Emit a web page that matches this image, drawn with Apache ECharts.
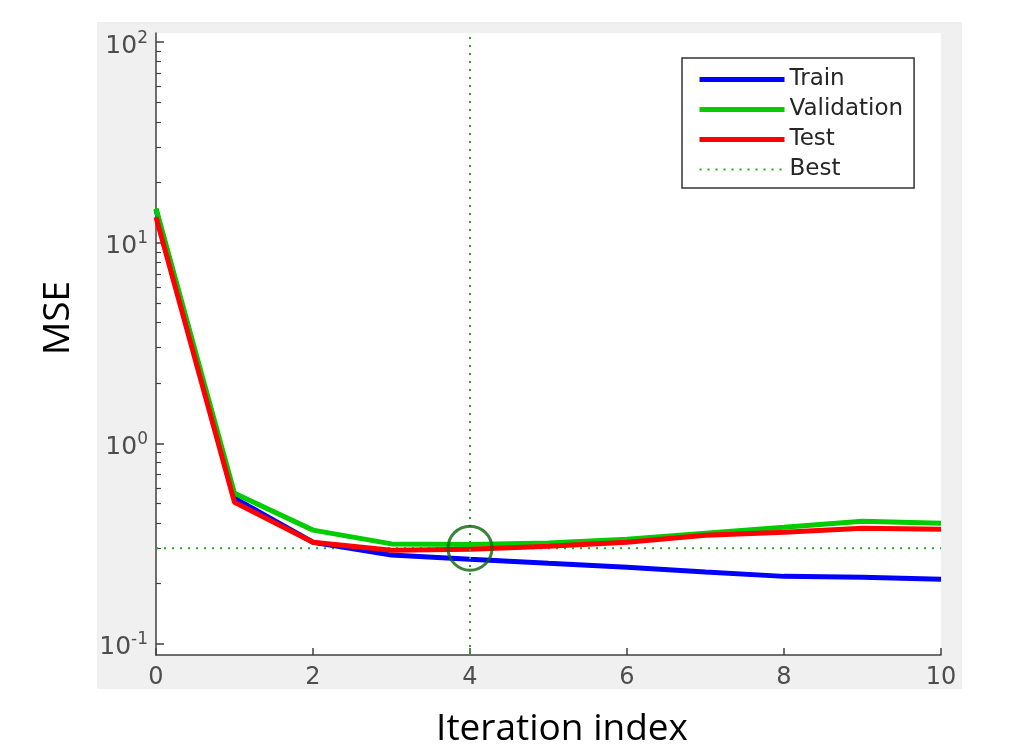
<!DOCTYPE html>
<html>
<head>
<meta charset="utf-8">
<script src="https://cdn.jsdelivr.net/npm/echarts@6/dist/echarts.min.js"></script>
<style>
html,body{margin:0;padding:0;background:#fff;}
#chart{width:1009px;height:751px;}
</style>
</head>
<body>
<div id="chart"></div>
<script>
var epochs=[0,1,2,3,4,5,6,7,8,9,10];
var trainMse=[14.6,0.532,0.321,0.277,0.264,0.252,0.241,0.228,0.217,0.215,0.210];
var validMse=[14.8,0.563,0.369,0.315,0.313,0.318,0.332,0.356,0.381,0.409,0.399];
var testMse=[13.4,0.508,0.321,0.293,0.296,0.307,0.321,0.348,0.360,0.377,0.373];
var bestEpoch=4;
var bestMse=0.30;
var xTicks=[0,2,4,6,8,10];
var yMajor=[0.1,1,10,100];
var yMinor=[0.2,0.3,0.4,0.5,0.6,0.7,0.8,0.9,2,3,4,5,6,7,8,9,20,30,40,50,60,70,80,90];

function pairs(ys){
	var out=[];
	for(var i=0;i<epochs.length;i++){
		out.push([epochs[i],ys[i]]);
	}
	return out;
}

var axisColor='#404040';
var labelColor='#4d4d4d';
var dotGreen='#22aa22';

var chart=echarts.init(document.getElementById('chart'));
var option={
	backgroundColor:'#ffffff',
	animation:false,
	graphic:[
		{type:'rect',z:-10,shape:{x:97,y:22,width:865,height:667},style:{fill:'#f0f0f0'}},
		{type:'text',x:58,y:318,rotation:Math.PI/2,
			style:{text:'MSE',fontSize:37,fontFamily:'Open Sans',fill:'#000',align:'center',verticalAlign:'middle'}},
		{type:'text',x:562,y:729,
			style:{text:'Iteration index',fontSize:37,fontFamily:'Open Sans',fill:'#000',align:'center',verticalAlign:'middle'}}
	],
	grid:{left:156,right:68,top:33,bottom:96,show:true,backgroundColor:'#ffffff',borderWidth:0},
	legend:{
		orient:'vertical',
		left:682,
		top:58,
		padding:[10,11,7,15],
		backgroundColor:'#ffffff',
		borderColor:'#333333',
		borderWidth:1.5,
		borderRadius:0,
		itemWidth:85,
		itemHeight:14,
		itemGap:7,
		itemStyle:{opacity:0},
		data:[
			{name:'Train',lineStyle:{width:5}},
			{name:'Validation',lineStyle:{width:5}},
			{name:'Test',lineStyle:{width:5}},
			{name:'Best',lineStyle:{width:2}}
		],
		textStyle:{fontSize:23,fontFamily:'DejaVu Sans',color:'#262626',lineHeight:23}
	},
	xAxis:{
		type:'value',
		min:0,
		max:10,
		interval:2,
		axisLine:{show:true,lineStyle:{color:axisColor,width:1.5}},
		axisTick:{show:true,inside:true,length:7,lineStyle:{color:axisColor,width:1.5}},
		axisLabel:{customValues:xTicks,margin:11,fontSize:24,fontFamily:'DejaVu Sans',color:labelColor},
		splitLine:{show:false}
	},
	yAxis:[
		{
			type:'log',
			min:0.088,
			max:111,
			axisLine:{show:true,lineStyle:{color:axisColor,width:1.5}},
			axisTick:{show:true,inside:true,length:8,customValues:yMajor,lineStyle:{color:axisColor,width:1.5}},
			axisLabel:{
				customValues:yMajor,
				margin:8,
				formatter:function(v){
					var e=Math.round(Math.log(v)/Math.LN10);
					return '{b|10}{s|'+e+'}';
				},
				rich:{
					b:{fontSize:25,fontFamily:'DejaVu Sans',color:labelColor,lineHeight:25,padding:[8,0,0,0]},
					s:{fontSize:17,fontFamily:'DejaVu Sans',color:labelColor,lineHeight:18,verticalAlign:'top'}
				}
			},
			splitLine:{show:false}
		},
		{
			type:'log',
			min:0.088,
			max:111,
			position:'left',
			axisLine:{show:false},
			axisTick:{show:true,inside:true,length:5,customValues:yMinor,lineStyle:{color:axisColor,width:1.2}},
			axisLabel:{show:false},
			splitLine:{show:false}
		}
	],
	series:[
		{
			name:'Train',type:'line',data:pairs(trainMse),symbol:'none',
			lineStyle:{color:'#0000ff',width:5},itemStyle:{color:'#0000ff'}
		},
		{
			name:'Validation',type:'line',data:pairs(validMse),symbol:'none',
			lineStyle:{color:'#00cc00',width:5},itemStyle:{color:'#00cc00'}
		},
		{
			name:'Test',type:'line',data:pairs(testMse),symbol:'none',
			lineStyle:{color:'#ff0000',width:5},itemStyle:{color:'#ff0000'}
		},
		{
			name:'Best',type:'line',data:[[0,bestMse],[10,bestMse]],symbol:'none',z:1,
			lineStyle:{color:dotGreen,width:2,type:[2,6]},itemStyle:{color:dotGreen},
			markLine:{
				silent:true,symbol:'none',label:{show:false},
				lineStyle:{color:dotGreen,width:2,type:[2,6]},
				data:[{xAxis:bestEpoch}]
			}
		},
		{
			name:'bestPoint',type:'scatter',data:[[bestEpoch,bestMse]],
			symbol:'circle',symbolSize:44,z:5,
			itemStyle:{color:'rgba(0,0,0,0)',borderColor:'#0b650b',borderWidth:3}
		}
	]
};
chart.setOption(option);
</script>
</body>
</html>
